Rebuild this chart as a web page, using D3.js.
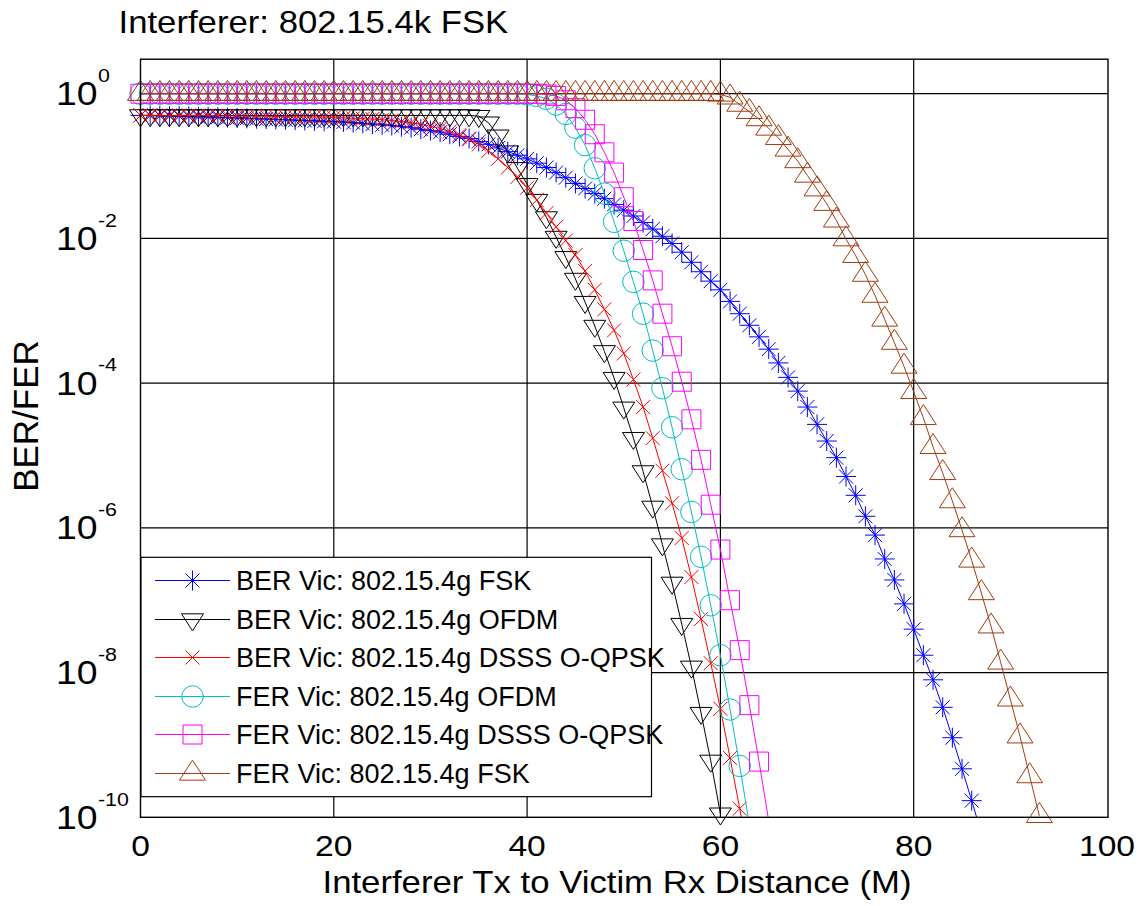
<!DOCTYPE html>
<html>
<head>
<meta charset="utf-8">
<script src="https://cdn.jsdelivr.net/npm/d3@7"></script>
<style>
  html, body { margin: 0; padding: 0; background: #fff; }
  svg { display: block; font-family: "Liberation Sans", Arial, Helvetica, sans-serif; }
</style>
</head>
<body>
<svg id="chart" width="1141" height="906"></svg>
<script>
// Interferer Tx to victim Rx distance, metres (1 m sampling)
const distance = [0,1,2,3,4,5,6,7,8,9,10,11,12,13,14,15,16,17,18,19,20,21,22,23,24,25,26,27,28,29,
  30,31,32,33,34,35,36,37,38,39,40,41,42,43,44,45,46,47,48,49,50,51,52,53,54,55,56,57,58,59,
  60,61,62,63,64,65,66,67,68,69,70,71,72,73,74,75,76,77,78,79,80,81,82,83,84,85,86,87,88,89,
  90,91,92,93];

// Error rates stored as log10 values, one per metre starting at 0 m
const berFskLog = [
  -0.30,-0.30,-0.305,-0.31,-0.31,-0.315,-0.32,-0.32,-0.325,-0.33,
  -0.335,-0.34,-0.345,-0.35,-0.355,-0.36,-0.365,-0.37,-0.375,-0.38,
  -0.385,-0.39,-0.40,-0.41,-0.42,-0.43,-0.44,-0.455,-0.47,-0.49,
  -0.51,-0.53,-0.56,-0.59,-0.62,-0.66,-0.70,-0.75,-0.80,-0.85,
  -0.90,-0.96,-1.02,-1.09,-1.16,-1.24,-1.31,-1.38,-1.45,-1.53,
  -1.61,-1.69,-1.78,-1.87,-1.97,-2.07,-2.19,-2.33,-2.46,-2.59,
  -2.71,-2.87,-3.04,-3.20,-3.36,-3.53,-3.72,-3.92,-4.11,-4.33,
  -4.57,-4.80,-5.03,-5.29,-5.55,-5.84,-6.10,-6.43,-6.72,-7.05,
  -7.40,-7.76,-8.10,-8.48,-8.90,-9.33,-9.77,-10.22];

const berOfdmLog = [
  -0.30,-0.30,-0.30,-0.30,-0.30,-0.30,-0.30,-0.30,-0.30,-0.30,
  -0.30,-0.30,-0.30,-0.30,-0.30,-0.30,-0.30,-0.30,-0.30,-0.30,
  -0.30,-0.30,-0.30,-0.30,-0.30,-0.30,-0.30,-0.30,-0.30,-0.30,
  -0.30,-0.30,-0.30,-0.30,-0.30,-0.31,-0.40,-0.58,-0.80,-1.03,
  -1.25,-1.47,-1.71,-1.98,-2.26,-2.56,-2.88,-3.21,-3.56,-3.93,
  -4.34,-4.76,-5.22,-5.71,-6.23,-6.76,-7.33,-7.92,-8.56,-9.22,
  -9.95];

const berDsssLog = [
  -0.30,-0.30,-0.30,-0.30,-0.30,-0.30,-0.30,-0.30,-0.305,-0.305,
  -0.31,-0.31,-0.31,-0.31,-0.315,-0.315,-0.32,-0.32,-0.32,-0.325,
  -0.33,-0.335,-0.34,-0.345,-0.35,-0.36,-0.37,-0.385,-0.40,-0.425,
  -0.45,-0.48,-0.52,-0.57,-0.63,-0.70,-0.79,-0.90,-1.02,-1.15,
  -1.30,-1.47,-1.65,-1.84,-2.03,-2.23,-2.45,-2.71,-2.98,-3.27,
  -3.59,-3.95,-4.33,-4.76,-5.21,-5.66,-6.14,-6.68,-7.26,-7.87,
  -8.50,-9.18,-9.88,-10.6];

const ferOfdmLog = [
  0,0,0,0,0,0,0,0,0,0,
  0,0,0,0,0,0,0,0,0,0,
  0,0,0,0,0,0,0,0,0,0,
  0,0,0,0,0,0,0,0,0,0,
  -0.01,-0.03,-0.07,-0.15,-0.28,-0.47,-0.71,-1.03,-1.38,-1.77,
  -2.17,-2.60,-3.04,-3.55,-4.07,-4.61,-5.19,-5.78,-6.40,-7.07,
  -7.76,-8.51,-9.29,-10.1];

const ferDsssLog = [
  0,0,0,0,0,0,0,0,0,0,
  0,0,0,0,0,0,0,0,0,0,
  0,0,0,0,0,0,0,0,0,0,
  0,0,0,0,0,0,0,0,0,0,
  0,0,-0.01,-0.03,-0.09,-0.20,-0.36,-0.56,-0.81,-1.09,
  -1.43,-1.76,-2.16,-2.58,-3.04,-3.49,-3.98,-4.50,-5.06,-5.68,
  -6.30,-7.00,-7.69,-8.45,-9.23,-10.05];

const ferFskLog = [
  0,0,0,0,0,0,0,0,0,0,
  0,0,0,0,0,0,0,0,0,0,
  0,0,0,0,0,0,0,0,0,0,
  0,0,0,0,0,0,0,0,0,0,
  0,0,0,0,0,0,0,0,0,0,
  0,0,0,0,0,0,0,0,0,0,
  -0.01,-0.05,-0.15,-0.25,-0.35,-0.48,-0.61,-0.77,-0.93,-1.13,
  -1.32,-1.52,-1.75,-2.01,-2.24,-2.50,-2.79,-3.12,-3.44,-3.77,
  -4.12,-4.48,-4.88,-5.24,-5.63,-6.03,-6.45,-6.90,-7.36,-7.86,
  -8.37,-8.88,-9.43,-9.98];

const seriesNames = [
  "BER Vic: 802.15.4g FSK",
  "BER Vic: 802.15.4g OFDM",
  "BER Vic: 802.15.4g DSSS O-QPSK",
  "FER Vic: 802.15.4g OFDM",
  "FER Vic: 802.15.4g DSSS O-QPSK",
  "FER Vic: 802.15.4g FSK"
];
const seriesLogs = [berFskLog, berOfdmLog, berDsssLog, ferOfdmLog, ferDsssLog, ferFskLog];
const seriesColors = ["#0000ff", "#000000", "#ff0000", "#00bfbf", "#ff00ff", "#a33c0f"];
const seriesMarkers = ["asterisk", "triangleDown", "cross", "circle", "square", "triangleUp"];

const xTicks = [0, 20, 40, 60, 80, 100];
const xGrid = [20, 40, 60, 80];
const yTickExponents = [0, -2, -4, -6, -8, -10];
const yGrid = [1e0, 1e-2, 1e-4, 1e-6, 1e-8];

const titleText = "Interferer: 802.15.4k FSK";
const xLabelText = "Interferer Tx to Victim Rx Distance (M)";
const yLabelText = "BER/FER";

// ---- layout ----
const plot = { left: 140.5, right: 1108, top: 59.2, bottom: 817.3 };
const x = d3.scaleLinear().domain([0, 100]).range([plot.left, 1107]);
const y = d3.scaleLog().domain([1e-10, 3]).range([plot.bottom, plot.top]);
const wide = 1.12;   // horizontal stretch of the axis and title lettering

const svg = d3.select("#chart");
svg.append("rect").attr("width", 1141).attr("height", 906).attr("fill", "#fff");

svg.append("defs").append("clipPath").attr("id", "plotClip")
  .append("rect")
  .attr("x", plot.left).attr("y", plot.top)
  .attr("width", plot.right - plot.left).attr("height", plot.bottom - plot.top);

// grid
const grid = svg.append("g").attr("stroke", "#000").attr("stroke-width", 1.2);
grid.selectAll("line.gx").data(xGrid).join("line").attr("class", "gx")
  .attr("x1", d => x(d)).attr("x2", d => x(d))
  .attr("y1", plot.top).attr("y2", plot.bottom);
grid.selectAll("line.gy").data(yGrid).join("line").attr("class", "gy")
  .attr("x1", plot.left).attr("x2", plot.right)
  .attr("y1", d => y(d)).attr("y2", d => y(d));

// marker shapes, centred on the data point (triangles on their centroid)
function markerPath(type) {
  switch (type) {
    case "asterisk": return "M0,-10V10M-10,0H10M-7,-7L7,7M-7,7L7,-7";
    case "triangleDown": return "M-11,-5.67L11,-5.67L0,11.33Z";
    case "cross": return "M-7,-7L7,7M-7,7L7,-7";
    case "circle": { const p = d3.path(); p.arc(0, 0, 10.75, 0, 2 * Math.PI); p.closePath(); return p.toString(); }
    case "square": return "M-9.5,-9.5H9.5V9.5H-9.5Z";
    case "triangleUp": return "M0,-13.33L13,6.67L-13,6.67Z";
  }
  return "";
}

const series = seriesNames.map((name, i) => ({
  name,
  color: seriesColors[i],
  marker: seriesMarkers[i],
  points: seriesLogs[i].map((v, j) => ({ d: distance[j], rate: Math.pow(10, v) }))
}));

const line = d3.line().x(p => x(p.d)).y(p => y(p.rate));
const [yMin] = y.domain();

const dataLayer = svg.append("g");
series.forEach(s => {
  const g = dataLayer.append("g");
  g.append("path")
    .attr("d", line(s.points))
    .attr("clip-path", "url(#plotClip)")
    .attr("fill", "none").attr("stroke", s.color).attr("stroke-width", 1);
  g.selectAll("path.m").data(s.points.filter(p => p.rate >= yMin)).join("path")
    .attr("class", "m")
    .attr("d", markerPath(s.marker))
    .attr("transform", p => `translate(${x(p.d)},${y(p.rate)})`)
    .attr("fill", "none").attr("stroke", s.color).attr("stroke-width", 1);
});

// frame
svg.append("rect")
  .attr("x", plot.left).attr("y", plot.top)
  .attr("width", plot.right - plot.left).attr("height", plot.bottom - plot.top)
  .attr("fill", "none").attr("stroke", "#000").attr("stroke-width", 1.4);

// y tick labels: 10 with superscript exponent
const yLab = svg.append("g").attr("fill", "#000");
yLab.selectAll("text.base").data(yTickExponents).join("text").attr("class", "base")
  .attr("transform", e => `translate(56,${y(Math.pow(10, e)) + 11.5}) scale(1.15,1)`)
  .attr("font-size", 32.5).text("10");
yLab.selectAll("text.exp").data(yTickExponents).join("text").attr("class", "exp")
  .attr("transform", e => `translate(98,${y(Math.pow(10, e)) - 11.7}) scale(1.15,1)`)
  .attr("font-size", 18.6).text(e => String(e));

// x tick labels
svg.append("g").selectAll("text").data(xTicks).join("text")
  .attr("transform", d => `translate(${x(d)},856) scale(${wide},1)`)
  .attr("text-anchor", "middle").attr("font-size", 30).text(d => d);

// titles
svg.append("text").attr("transform", `translate(118.5,33.3) scale(${wide},1)`)
  .attr("font-size", 31).text(titleText);
svg.append("text").attr("transform", `translate(617,893) scale(${wide},1)`)
  .attr("text-anchor", "middle").attr("font-size", 31).text(xLabelText);
svg.append("text")
  .attr("transform", "translate(38,416) rotate(-90)")
  .attr("text-anchor", "middle").attr("font-size", 35).text(yLabelText);

// legend
const legend = { x: 141, y: 557.3, w: 510.5, h: 239.4, row0: 580, rowStep: 38.6 };
const lg = svg.append("g");
lg.append("rect")
  .attr("x", legend.x).attr("y", legend.y).attr("width", legend.w).attr("height", legend.h)
  .attr("fill", "#fff").attr("stroke", "#000").attr("stroke-width", 1.2);
series.forEach((s, i) => {
  const cy = Math.round(legend.row0 + i * legend.rowStep) + 0.5;
  lg.append("line").attr("x1", 155).attr("x2", 230).attr("y1", cy).attr("y2", cy)
    .attr("stroke", s.color).attr("stroke-width", 1);
  lg.append("path").attr("d", markerPath(s.marker))
    .attr("transform", `translate(192.5,${cy})`)
    .attr("fill", "none").attr("stroke", s.color).attr("stroke-width", 1);
  lg.append("text").attr("x", 236).attr("y", cy + 9.5).attr("font-size", 27).text(s.name);
});
</script>
</body>
</html>
